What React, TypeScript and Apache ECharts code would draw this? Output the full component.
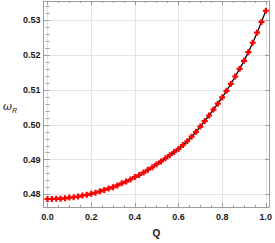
import React, { useEffect, useRef } from 'react';
import * as echarts from 'echarts';

const qValues = [
  0.0, 0.02, 0.04, 0.06, 0.08, 0.1, 0.12, 0.14, 0.16, 0.18,
  0.2, 0.22, 0.24, 0.26, 0.28, 0.3, 0.32, 0.34, 0.36, 0.38,
  0.4, 0.42, 0.44, 0.46, 0.48, 0.5, 0.52, 0.54, 0.56, 0.58,
  0.6, 0.62, 0.64, 0.66, 0.68, 0.7, 0.72, 0.74, 0.76, 0.78,
  0.8, 0.82, 0.84, 0.86, 0.88, 0.9, 0.92, 0.94, 0.96, 0.98, 1.0,
];

const omegaValues = [
  0.4787, 0.4787, 0.4788, 0.4788, 0.4789, 0.4791, 0.4792, 0.4794, 0.4797, 0.4799,
  0.4802, 0.4805, 0.4809, 0.4813, 0.4817, 0.4821, 0.4826, 0.4832, 0.4837, 0.4843,
  0.485, 0.4856, 0.4863, 0.4871, 0.4878, 0.4887, 0.4895, 0.4904, 0.4913, 0.4922,
  0.4931, 0.4942, 0.4953, 0.4966, 0.498, 0.4995, 0.5011, 0.5027, 0.5044, 0.5061,
  0.5079, 0.5098, 0.5118, 0.5139, 0.5161, 0.5184, 0.5209, 0.5236, 0.5265, 0.5296, 0.5328,
];

const xTickLabels = ['0.0', '0.2', '0.4', '0.6', '0.8', '1.0'];
const yTickLabels = ['0.48', '0.49', '0.50', '0.51', '0.52', '0.53'];

const X_MIN = -0.0185;
const X_MAX = 1.015;
const Y_MIN = 0.4764;
const Y_MAX = 0.5356;

const FRAME = '#9c9c9c';
const GRID = '#e3e3e3';
const FONT = 'Liberation Sans, Arial, sans-serif';

const plusPath =
  'path://M-1.1,-3L1.1,-3L1.1,-1.1L3,-1.1L3,1.1L1.1,1.1L1.1,3L-1.1,3L-1.1,1.1L-3,1.1L-3,-1.1L-1.1,-1.1Z';

export default function App() {
  const ref = useRef<HTMLDivElement>(null);

  useEffect(() => {
    if (!ref.current) return;
    const chart = echarts.init(ref.current, undefined, { renderer: 'svg' });
    const pts = qValues.map((q, i) => [q, omegaValues[i]]);

    const labelStyle = {
      color: '#1a1a1a',
      fontSize: 9,
      fontWeight: 'bold' as const,
      fontFamily: FONT,
    };

    const xFmt = (v: number) => {
      const s = v.toFixed(1);
      return xTickLabels.includes(s) && Math.abs(v - parseFloat(s)) < 1e-9 ? s : '';
    };
    const yFmt = (v: number) => {
      const s = v.toFixed(2);
      return yTickLabels.includes(s) && Math.abs(v - parseFloat(s)) < 1e-9 ? s : '';
    };

    const majorX = (pos: 'bottom' | 'top', labels: boolean) => ({
      type: 'value',
      position: pos,
      min: X_MIN,
      max: X_MAX,
      splitNumber: 5,
      axisLine: { show: true, onZero: false, lineStyle: { color: FRAME, width: 1 } },
      axisTick: { show: true, inside: true, length: 4, lineStyle: { color: FRAME } },
      axisLabel: labels ? { ...labelStyle, margin: 5, formatter: xFmt } : { show: false },
      splitLine: { show: labels, lineStyle: { color: GRID, width: 1 } },
      ...(labels
        ? {
            name: 'Q',
            nameLocation: 'middle',
            nameGap: 21,
            nameTextStyle: { ...labelStyle, fontSize: 10 },
          }
        : {}),
    });
    const minorX = (pos: 'bottom' | 'top') => ({
      type: 'value',
      position: pos,
      min: X_MIN,
      max: X_MAX,
      splitNumber: 20,
      axisLine: { show: false },
      axisTick: { show: true, inside: true, length: 2, lineStyle: { color: FRAME } },
      axisLabel: { show: false },
      splitLine: { show: false },
    });
    const majorY = (pos: 'left' | 'right', labels: boolean) => ({
      type: 'value',
      position: pos,
      min: Y_MIN,
      max: Y_MAX,
      splitNumber: 6,
      axisLine: { show: true, onZero: false, lineStyle: { color: FRAME, width: 1 } },
      axisTick: { show: true, inside: true, length: 4, lineStyle: { color: FRAME } },
      axisLabel: labels ? { ...labelStyle, margin: 3, formatter: yFmt } : { show: false },
      splitLine: { show: labels, lineStyle: { color: GRID, width: 1 } },
      ...(labels
        ? {
            name: '{w|ω}{r|R}',
            nameLocation: 'middle',
            nameRotate: 0,
            nameGap: 24,
            nameTextStyle: {
              rich: {
                w: {
                  fontSize: 11,
                  fontStyle: 'italic',
                  fontFamily: 'DejaVu Serif, serif',
                  color: '#1a1a1a',
                  verticalAlign: 'bottom',
                  padding: [7, 0, 2, 0],
                },
                r: {
                  fontSize: 7,
                  fontStyle: 'italic',
                  fontFamily: FONT,
                  color: '#1a1a1a',
                  verticalAlign: 'bottom',
                },
              },
            },
          }
        : {}),
    });
    const minorY = (pos: 'left' | 'right') => ({
      type: 'value',
      position: pos,
      min: Y_MIN,
      max: Y_MAX,
      splitNumber: 30,
      axisLine: { show: false },
      axisTick: { show: true, inside: true, length: 2, lineStyle: { color: FRAME } },
      axisLabel: { show: false },
      splitLine: { show: false },
    });

    chart.setOption({
      animation: false,
      backgroundColor: '#ffffff',
      grid: { left: 37.5, right: 2.3, top: 1, bottom: 33, containLabel: false },
      xAxis: [majorX('bottom', true), minorX('bottom'), majorX('top', false), minorX('top')],
      yAxis: [majorY('left', true), minorY('left'), majorY('right', false), minorY('right')],
      series: [
        {
          type: 'line',
          xAxisIndex: 0,
          yAxisIndex: 0,
          data: pts,
          showSymbol: false,
          symbol: 'none',
          lineStyle: { color: '#000000', width: 1.3 },
          z: 2,
        },
        {
          type: 'scatter',
          xAxisIndex: 0,
          yAxisIndex: 0,
          data: pts,
          symbol: plusPath,
          symbolSize: 6,
          itemStyle: { color: '#ff0000', opacity: 1 },
          z: 3,
        },
      ],
    });
    return () => chart.dispose();
  }, []);

  return (
    <div
      ref={ref}
      style={{ position: 'fixed', left: 0, top: 0, width: 275, height: 243, background: '#fff' }}
    />
  );
}
